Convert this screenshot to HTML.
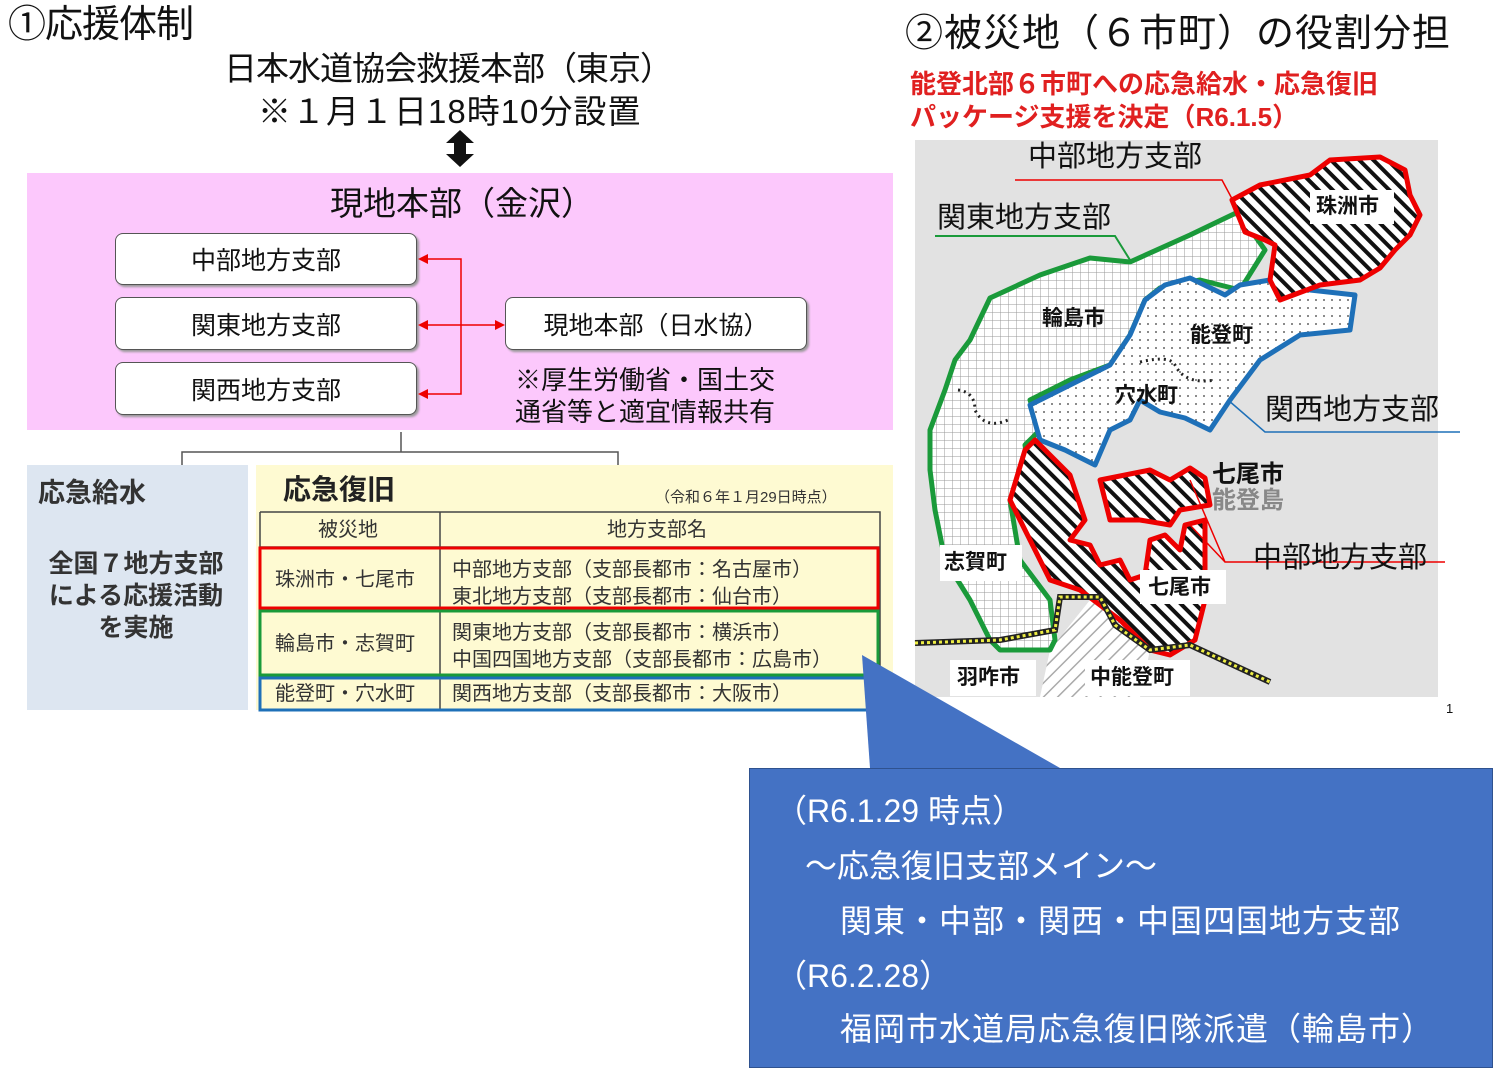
<!DOCTYPE html>
<html><head><meta charset="utf-8"><style>
body{margin:0;width:1500px;height:1074px;background:#fff;position:relative;overflow:hidden;font-family:"Liberation Sans","Noto Sans CJK JP",sans-serif;color:#111}
.a{position:absolute;white-space:nowrap;line-height:1}
.box{position:absolute;background:#fff;border:1.5px solid #555;border-radius:8px;box-shadow:2px 2px 2px #999;font-size:25px;display:flex;align-items:center;justify-content:center}
.t{position:absolute;font-size:20px;line-height:1;white-space:nowrap;color:#333}
</style></head><body>
<div class="a" style="left:8px;top:6px;font-size:38px;letter-spacing:-1px">①応援体制</div>
<div class="a" style="left:224px;top:52px;font-size:33px;letter-spacing:-1px">日本水道協会救援本部（東京）</div>
<div class="a" style="left:258px;top:95px;font-size:33px;letter-spacing:1px">※１月１日18時10分設置</div>
<svg style="position:absolute;left:0;top:0" width="1500" height="1074">
<polygon points="460,130 474,143 466,143 466,154 474,154 460,167 446,154 454,154 454,143 446,143" fill="#111"/>
</svg>
<div style="position:absolute;left:27px;top:173px;width:866px;height:257px;background:#fcc8fc"></div>
<div class="a" style="left:330px;top:187px;font-size:33px">現地本部（金沢）</div>
<div class="box" style="left:115px;top:233px;width:300px;height:50px">中部地方支部</div>
<div class="box" style="left:115px;top:297px;width:300px;height:51px">関東地方支部</div>
<div class="box" style="left:115px;top:362px;width:300px;height:51px">関西地方支部</div>
<div class="box" style="left:505px;top:297px;width:300px;height:51px">現地本部（日水協）</div>
<div class="a" style="left:515px;top:364px;font-size:26px;line-height:32px">※厚生労働省・国土交<br>通省等と適宜情報共有</div>
<svg style="position:absolute;left:0;top:0" width="1500" height="1074">
<g stroke="#e00" stroke-width="1.5" fill="none"><path d="M426,259H461V394H426M426,325H496"/></g>
<g fill="#e00"><polygon points="418,259 428,254 428,264"/><polygon points="418,325 428,320 428,330"/><polygon points="418,394 428,389 428,399"/><polygon points="505,325 495,320 495,330"/></g>
<path d="M401,432V452M182,465V452H618V465" stroke="#555" stroke-width="1.5" fill="none"/>
</svg>
<div style="position:absolute;left:27px;top:465px;width:221px;height:245px;background:#dde6f1"></div>
<div class="a" style="left:38px;top:480px;font-size:27px;color:#333;font-weight:bold">応急給水</div>
<div class="a" style="left:34px;top:548px;font-size:25px;line-height:32px;color:#333;text-align:center;width:204px;font-weight:bold">全国７地方支部<br>による応援活動<br>を実施</div>
<div style="position:absolute;left:256px;top:465px;width:637px;height:245px;background:#fefad2"></div>
<div class="a" style="left:283px;top:476px;font-size:28px;color:#222;font-weight:bold">応急復旧</div>
<div class="t" style="left:655px;top:490px;font-size:15px">（令和６年１月29日時点）</div>
<svg style="position:absolute;left:0;top:0" width="1500" height="1074">
<g stroke="#444" stroke-width="1.5" fill="none"><path d="M260,512H880V710M260,512V710M440,512V710M260,547H880"/></g>
<rect x="260" y="548" width="618" height="60" fill="none" stroke="#e00" stroke-width="3"/>
<rect x="260" y="611" width="618" height="64" fill="none" stroke="#1a9a3a" stroke-width="3"/>
<rect x="260" y="678" width="618" height="32" fill="none" stroke="#1e70b8" stroke-width="3"/>
</svg>
<div class="t" style="left:318px;top:520px">被災地</div>
<div class="t" style="left:607px;top:520px">地方支部名</div>
<div class="t" style="left:275px;top:570px">珠洲市・七尾市</div>
<div class="t" style="left:452px;top:557px;line-height:27px">中部地方支部（支部長都市：名古屋市）<br>東北地方支部（支部長都市：仙台市）</div>
<div class="t" style="left:275px;top:634px">輪島市・志賀町</div>
<div class="t" style="left:452px;top:620px;line-height:27px">関東地方支部（支部長都市：横浜市）<br>中国四国地方支部（支部長都市：広島市）</div>
<div class="t" style="left:275px;top:684px">能登町・穴水町</div>
<div class="t" style="left:452px;top:684px">関西地方支部（支部長都市：大阪市）</div>

<div class="a" style="left:905px;top:15px;font-size:38px;letter-spacing:1px">②被災地（６市町）の役割分担</div>
<div class="a" style="left:910px;top:71px;font-size:26px;color:#e02020;font-weight:bold">能登北部６市町への応急給水・応急復旧</div>
<div class="a" style="left:910px;top:104px;font-size:26px;color:#e02020;font-weight:bold">パッケージ支援を決定（R6.1.5）</div>

<svg style="position:absolute;left:0;top:0" width="1500" height="1074">
<defs>
<pattern id="grid" width="8" height="8" patternUnits="userSpaceOnUse"><rect width="8" height="8" fill="#fff"/><path d="M0,0H8M0,0V8" stroke="#999" stroke-width="1"/></pattern>
<pattern id="dots" width="8" height="8" patternUnits="userSpaceOnUse"><rect width="8" height="8" fill="#fff"/><circle cx="4" cy="4" r="1" fill="#666"/></pattern>
<pattern id="hat" width="10" height="10" patternUnits="userSpaceOnUse" patternTransform="rotate(45)"><rect width="10" height="10" fill="#fff"/><rect width="10" height="4" fill="#111"/></pattern>
<pattern id="lhat" width="10" height="10" patternUnits="userSpaceOnUse" patternTransform="rotate(-45)"><rect width="10" height="10" fill="#fff"/><rect width="10" height="1.5" fill="#aaa"/></pattern>
</defs>
<rect x="915" y="140" width="523" height="557" fill="#e2e2e2"/>
<polygon points="1050,650 1090,600 1110,600 1150,650 1140,697 1040,697" fill="url(#lhat)"/>
<polygon points="1238,212 1190,235 1130,262 1090,258 1040,275 990,298 970,340 955,360 945,390 930,430 930,470 935,510 945,560 970,600 990,640 1000,650 1050,650 1055,640 1050,600 1020,560 1010,500 1030,480 1025,445 1040,430 1030,400 1070,380 1110,365 1130,335 1145,300 1160,288 1200,280 1240,290 1265,250" fill="url(#grid)" stroke="#1a9a3a" stroke-width="5" stroke-linejoin="round"/>
<polygon points="1145,300 1165,285 1190,278 1225,295 1240,285 1270,280 1310,290 1355,295 1350,330 1300,335 1260,360 1230,400 1210,430 1185,418 1160,412 1140,400 1130,420 1110,430 1095,465 1065,450 1040,440 1030,405 1070,385 1110,365 1130,335" fill="url(#dots)" stroke="#1e70b8" stroke-width="5" stroke-linejoin="round"/>
<polygon points="1232,200 1260,185 1310,175 1330,160 1380,157 1405,170 1410,195 1420,215 1410,235 1395,250 1380,268 1360,280 1320,285 1280,300 1270,280 1275,245 1265,240 1245,232" fill="url(#hat)" stroke="#e00" stroke-width="5" stroke-linejoin="round"/>
<polygon points="1025,450 1035,440 1045,450 1060,465 1070,475 1085,520 1070,540 1090,545 1100,565 1120,560 1130,580 1145,575 1150,540 1165,535 1180,550 1185,525 1205,520 1205,600 1195,640 1170,655 1150,650 1120,620 1080,590 1050,580 1030,540 1010,500" fill="url(#hat)" stroke="#e00" stroke-width="5" stroke-linejoin="round"/>
<polygon points="1100,480 1150,470 1170,480 1190,468 1205,478 1210,505 1180,510 1170,525 1140,520 1110,520" fill="url(#hat)" stroke="#e00" stroke-width="5" stroke-linejoin="round"/>
<path d="M1140,362 Q1170,355 1175,365 Q1185,385 1215,380" stroke="#222" stroke-width="3" stroke-dasharray="2,4" fill="none"/>
<path d="M958,390 Q975,392 975,410 Q985,430 1008,420" stroke="#222" stroke-width="3" stroke-dasharray="2,4" fill="none"/>
<path d="M915,643 L1000,640 L1055,630 L1060,597 L1100,597 L1115,625 L1150,650 L1190,645 L1270,682" stroke="#222" stroke-width="6" fill="none"/>
<path d="M915,643 L1000,640 L1055,630 L1060,597 L1100,597 L1115,625 L1150,650 L1190,645 L1270,682" stroke="#ee4" stroke-width="3" stroke-dasharray="3,3" fill="none"/>
<path d="M1015,180 H1222 L1238,210" stroke="#e00" stroke-width="1.5" fill="none"/>
<path d="M935,236 H1115 L1130,260" stroke="#1a9a3a" stroke-width="2" fill="none"/>
<path d="M1228,400 L1265,432 H1460" stroke="#1e70b8" stroke-width="1.5" fill="none"/>
<path d="M1190,480 L1225,562 H1445 M1190,525 L1225,562" stroke="#e00" stroke-width="1.5" fill="none"/>
<rect x="1310" y="190" width="84" height="34" fill="#fff"/>
<rect x="1140" y="570" width="86" height="34" fill="#fff"/>
<rect x="940" y="545" width="82" height="36" fill="#fff"/>
<rect x="950" y="660" width="86" height="36" fill="#fff"/>
<rect x="1085" y="660" width="105" height="36" fill="#fff"/>
<polygon points="862,655 1060,768 870,768" fill="#4472c4"/>
</svg>
<div class="a" style="left:1028px;top:143px;font-size:29px">中部地方支部</div>
<div class="a" style="left:937px;top:204px;font-size:29px">関東地方支部</div>
<div class="a" style="left:1316px;top:196px;font-size:21px;font-weight:bold">珠洲市</div>
<div class="a" style="left:1042px;top:308px;font-size:21px;font-weight:bold">輪島市</div>
<div class="a" style="left:1190px;top:325px;font-size:21px;font-weight:bold">能登町</div>
<div class="a" style="left:1115px;top:385px;font-size:21px;font-weight:bold">穴水町</div>
<div class="a" style="left:1265px;top:396px;font-size:29px">関西地方支部</div>
<div class="a" style="left:1212px;top:462px;font-size:24px;line-height:26px;font-weight:bold">七尾市<br><span style="color:#888">能登島</span></div>
<div class="a" style="left:1253px;top:544px;font-size:29px">中部地方支部</div>
<div class="a" style="left:944px;top:552px;font-size:21px;font-weight:bold">志賀町</div>
<div class="a" style="left:1148px;top:577px;font-size:21px;font-weight:bold">七尾市</div>
<div class="a" style="left:957px;top:667px;font-size:21px;font-weight:bold">羽咋市</div>
<div class="a" style="left:1090px;top:667px;font-size:21px;font-weight:bold">中能登町</div>
<div class="a" style="left:1446px;top:702px;font-size:13px">1</div>

<div style="position:absolute;left:749px;top:768px;width:742px;height:298px;background:#4472c4;border:1px solid #2f528f"></div>
<div class="a" style="left:775px;top:795px;font-size:32px;color:#fff">（R6.1.29 時点）</div>
<div class="a" style="left:805px;top:850px;font-size:32px;color:#fff">～応急復旧支部メイン～</div>
<div class="a" style="left:840px;top:905px;font-size:32px;color:#fff;letter-spacing:1px">関東・中部・関西・中国四国地方支部</div>
<div class="a" style="left:775px;top:960px;font-size:32px;color:#fff">（R6.2.28）</div>
<div class="a" style="left:840px;top:1013px;font-size:32px;color:#fff;letter-spacing:1px">福岡市水道局応急復旧隊派遣（輪島市）</div>
</body></html>
